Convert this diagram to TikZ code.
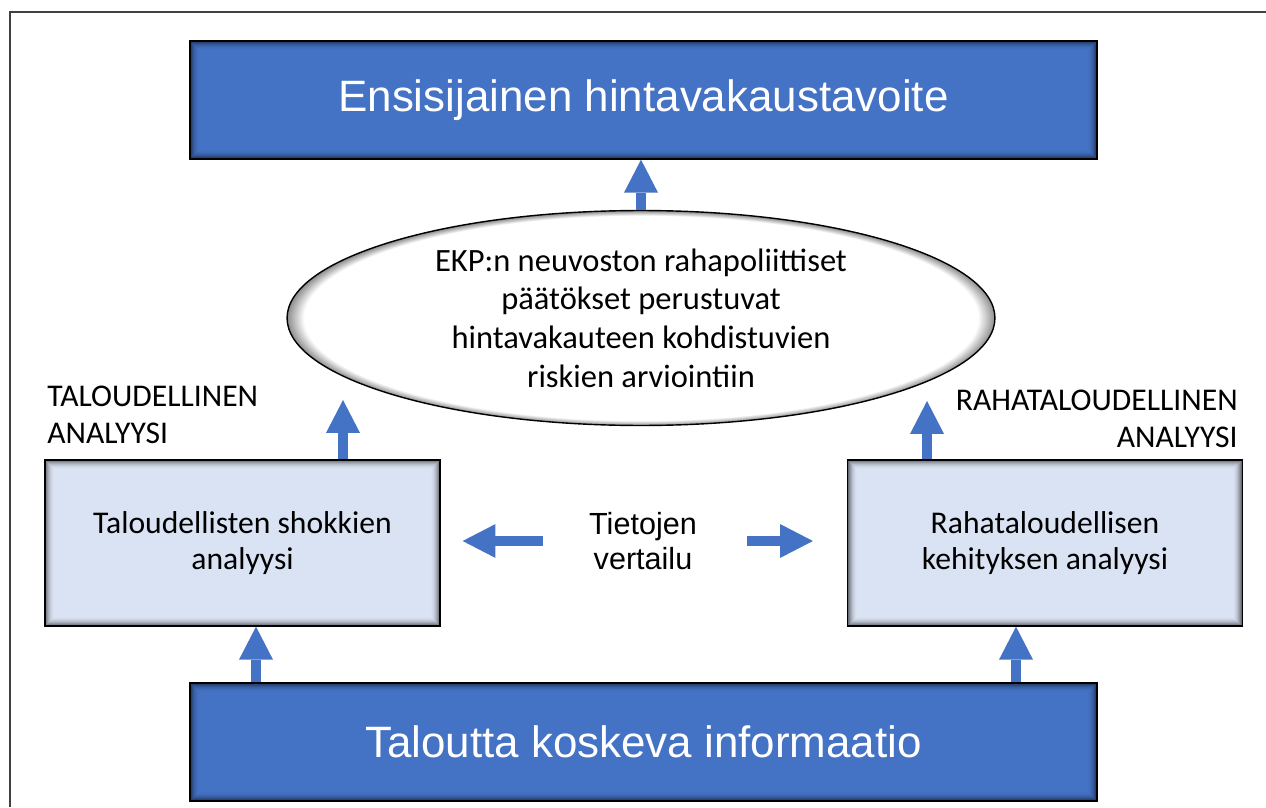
\documentclass[tikz,border=0pt]{standalone}
\usepackage{fontspec}
\setmainfont{Carlito}
\newfontfamily\arialfont{Liberation Sans}
\usetikzlibrary{shapes.geometric, arrows.meta, positioning}

\definecolor{ecbblue}{HTML}{4472C4}
\definecolor{palefill}{HTML}{DAE3F3}
\pgfdeclareradialshading{ekpglow}{\pgfpoint{0bp}{0bp}}{%
  color(0bp)=(white); color(23.8bp)=(white); color(25bp)=(black!45); color(50bp)=(black!45)}

\begin{document}
\begin{tikzpicture}[x=0.02cm, y=-0.02cm,
    bluebox/.style={draw=black, line width=0.8pt, fill=ecbblue, text=white,
      font=\arialfont\fontsize{25}{30}\selectfont,
      minimum width=18.14cm, minimum height=2.36cm},
    analysisbox/.style={draw=black, line width=0.8pt, fill=palefill, align=center,
      font=\fontsize{18}{20.5}\selectfont,
      minimum width=7.9cm, minimum height=3.32cm},
    caps/.style={font=\fontsize{18}{21}\selectfont, inner sep=0pt},
    blockarrow/.style={draw=ecbblue, line width=6.2pt,
      -{Triangle[width=19.3pt, length=18.7pt, line width=0pt]}}]

    % =================================================================
    % 1. KOORDINAATIT
    % =================================================================
    \useasboundingbox (0,0) rectangle (1266,807);
    \coordinate (econtip) at (343,400);
    \coordinate (montip) at (927,401);
    \coordinate (infoL) at (256,0);
    \coordinate (infoR) at (1016,0);

    % kehys (oikea ja ala reuna jäävät kuvan ulkopuolelle)
    \draw[line width=1.2pt, black!75] (10,807) -- (10,12) -- (1266,12);

    % =================================================================
    % 2. LAATIKOT JA ELLIPSI
    % =================================================================
    \node[bluebox] (goal) at (643.5,100) {Ensisijainen hintavakaustavoite};
    \node[bluebox] (info) at (643.5,742) {Taloutta koskeva informaatio};

    \node[analysisbox] (shock) at (242.5,543) {Taloudellisten shokkien\\analyysi};
    \node[analysisbox] (money) at (1045,543) {Rahataloudellisen\\kehityksen analyysi};

    \node[ellipse, draw=black, line width=0.8pt, shading=ekpglow,
          minimum width=14.16cm, minimum height=4.3cm, inner sep=0pt,
          align=center, font=\fontsize{18.5}{22}\selectfont]
          (ekp) at (641,318)
          {EKP:n neuvoston rahapoliittiset\\päätökset perustuvat\\
           hintavakauteen kohdistuvien\\riskien arviointiin};

    % sisävarjo laatikoiden reunoille
    \foreach \bx in {goal,info,shock,money} {
      \foreach \i in {0,...,9} {
        \pgfmathsetmacro{\op}{0.65*(1-\i/10)^2}
        \draw[black, opacity=\op, line width=0.6pt]
          ([shift={(\i+0.5,\i+0.5)}]\bx.north west) rectangle
          ([shift={(-\i-0.5,-\i-0.5)}]\bx.south east);
      }
    }

    % =================================================================
    % 3. TEKSTIT
    % =================================================================
    \node[font=\arialfont\fontsize{17.4}{20}\selectfont, align=center, inner sep=0pt]
          (compare) at (643,541) {Tietojen\\vertailu};

    \node[caps, align=left, anchor=north west] (econlbl) at (47,386)
          {TALOUDELLINEN\\ANALYYSI};
    \node[caps, align=right, anchor=north east] (monlbl) at (1238,390)
          {RAHATALOUDELLINEN\\ANALYYSI};

    % =================================================================
    % 4. NUOLET
    % =================================================================
    \draw[blockarrow] (ekp.north) -- (ekp.north |- goal.south);
    \draw[blockarrow] (shock.north -| econtip) -- (econtip);
    \draw[blockarrow] (money.north -| montip) -- (montip);
    \draw[blockarrow] (info.north -| infoL) -- (shock.south -| infoL);
    \draw[blockarrow] (info.north -| infoR) -- (money.south -| infoR);
    \draw[blockarrow, shorten <=26pt, shorten >=12.5pt]
          (compare.west) -- (compare.west -| shock.east);
    \draw[blockarrow, shorten <=28.3pt, shorten >=19.3pt]
          (compare.east) -- (compare.east -| money.west);

\end{tikzpicture}
\end{document}
